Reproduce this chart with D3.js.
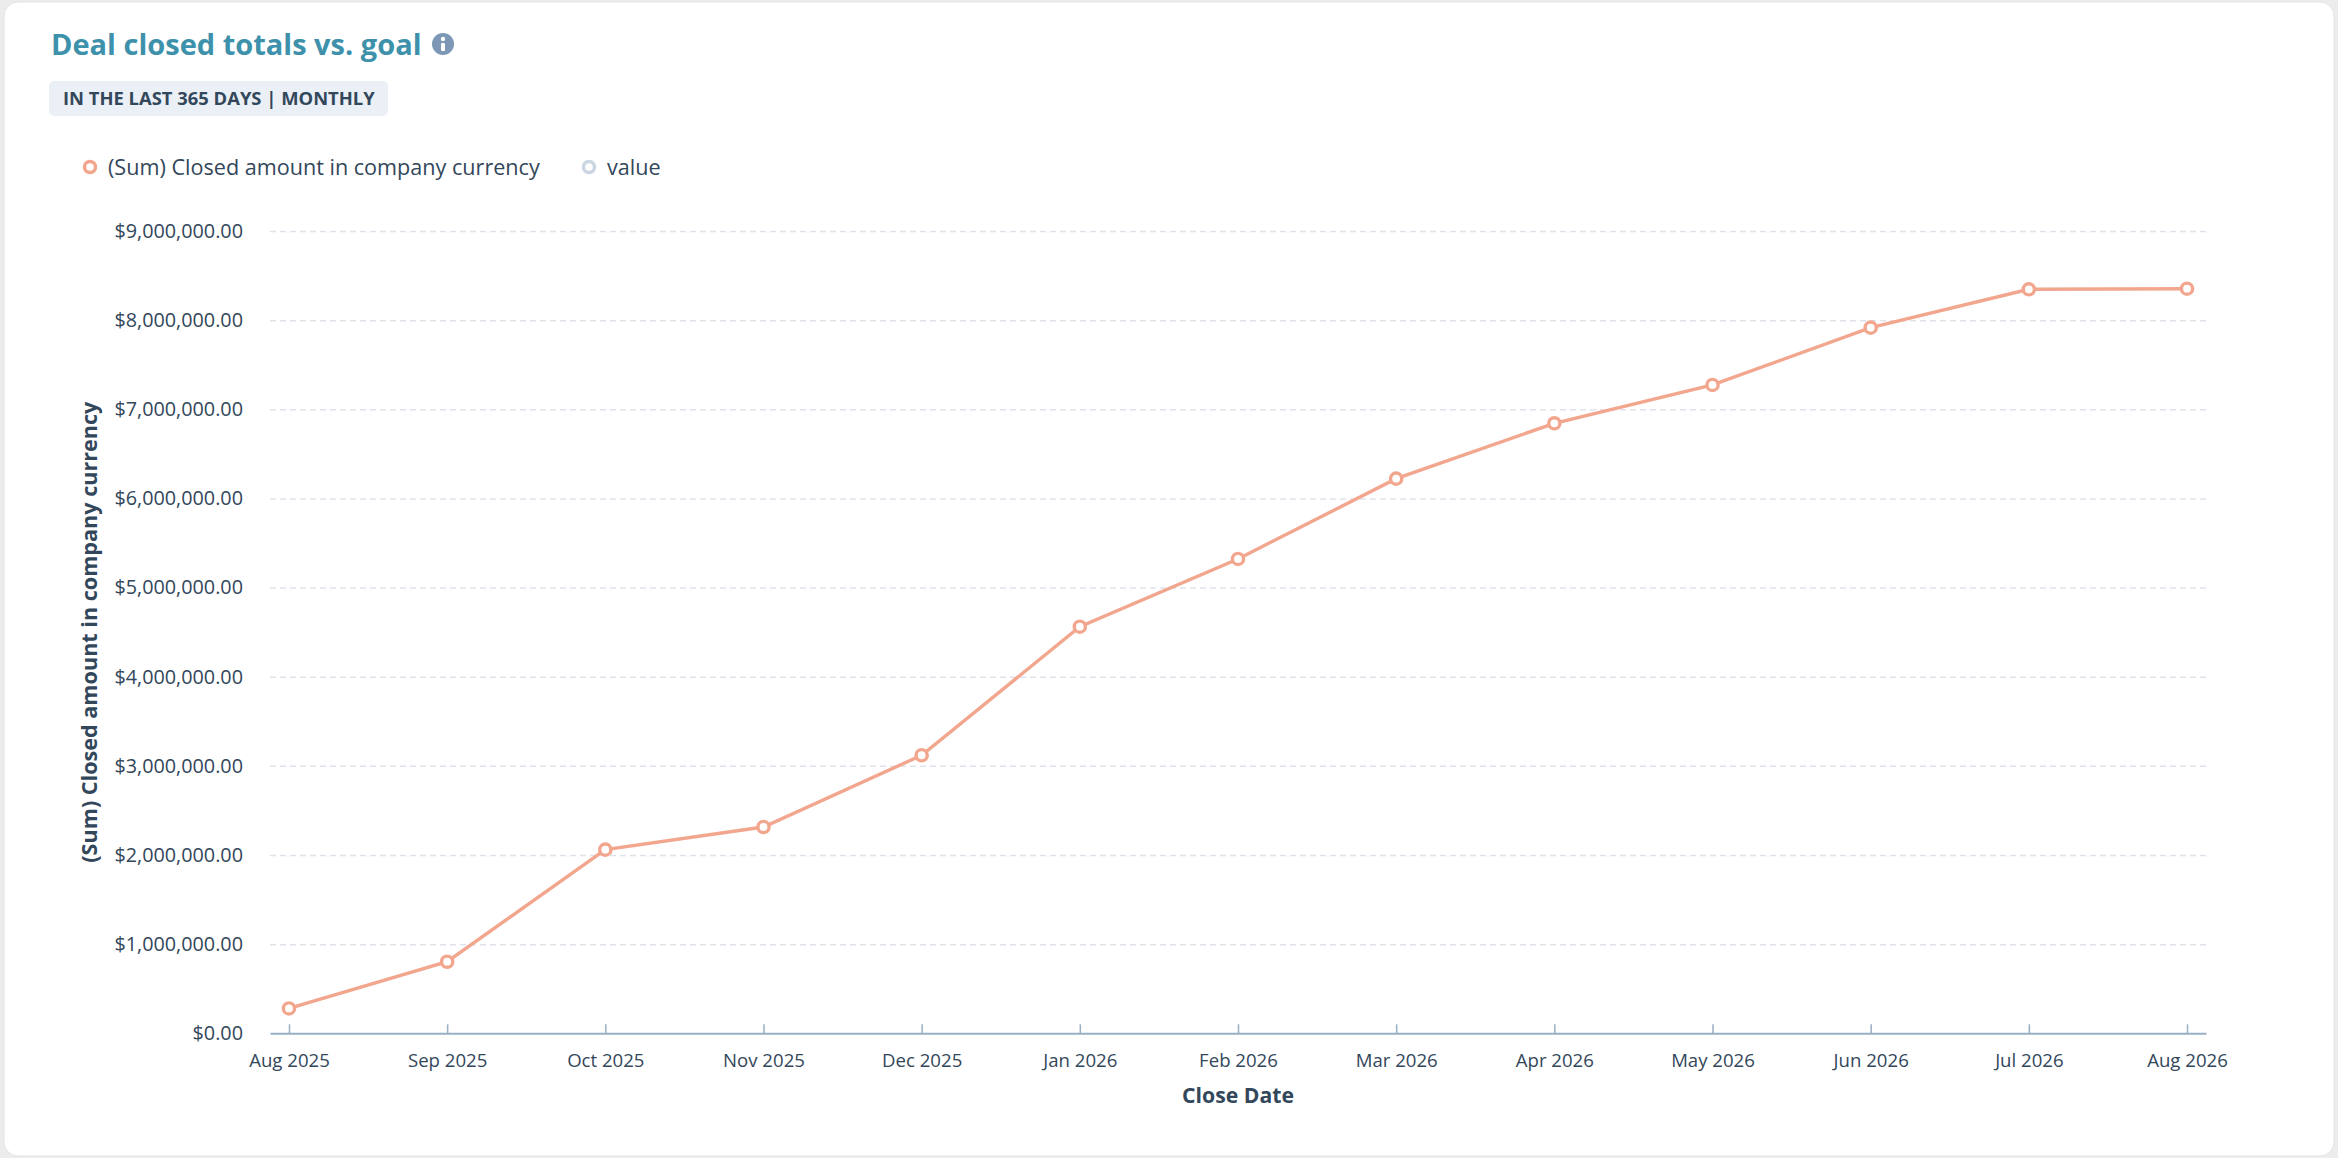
<!DOCTYPE html>
<html>
<head>
<meta charset="utf-8">
<script src="https://cdn.jsdelivr.net/npm/d3@7"></script>
<style>
  html, body { margin: 0; padding: 0; background: #ececec; }
  body { width: 2338px; height: 1158px; overflow: hidden; }
  svg { display: block; }
  text { font-family: "Open Sans", "Noto Sans", sans-serif; fill: #33475b; }
</style>
</head>
<body>
<svg id="chart" width="2338" height="1158"></svg>
<script>
// data
const months = ["Aug 2025", "Sep 2025", "Oct 2025", "Nov 2025", "Dec 2025", "Jan 2026",
  "Feb 2026", "Mar 2026", "Apr 2026", "May 2026", "Jun 2026", "Jul 2026", "Aug 2026"];
const closedAmount = [279000, 803000, 2060000, 2314000, 3119000, 4561000,
  5321000, 6222000, 6843000, 7273000, 7916000, 8346000, 8353000];
const yTicks = [0, 1000000, 2000000, 3000000, 4000000, 5000000, 6000000, 7000000, 8000000, 9000000];
const legendItems = ["(Sum) Closed amount in company currency", "value"];
const legendColors = ["#f2a68e", "#cbd6e2"];

const data = months.map((m, i) => ({month: m, value: closedAmount[i]}));

const svg = d3.select("#chart");
const plotLeft = 270, plotRight = 2206, plotTop = 231, plotBottom = 1033.3;

// card
svg.append("rect")
  .attr("x", 4).attr("y", 2)
  .attr("width", 2330).attr("height", 1154)
  .attr("rx", 14)
  .attr("fill", "#fff")
  .attr("stroke", "#e3e3e3");

// title
svg.append("text")
  .attr("x", 51).attr("y", 55)
  .attr("font-size", 29).attr("font-weight", 700)
  .style("fill", "#3d91ab")
  .text("Deal closed totals vs. goal");

const info = svg.append("g").attr("transform", "translate(443,44)");
info.append("circle").attr("r", 11).attr("fill", "#7c98b6");
info.append("circle").attr("cy", -5).attr("r", 2.2).attr("fill", "#fff");
info.append("rect").attr("x", -2).attr("y", -1).attr("width", 4).attr("height", 8).attr("rx", 1).attr("fill", "#fff");

// badge
svg.append("rect")
  .attr("x", 49).attr("y", 81)
  .attr("width", 339).attr("height", 35)
  .attr("rx", 5)
  .attr("fill", "#eaf0f6");
svg.append("text")
  .attr("x", 63).attr("y", 105)
  .attr("font-size", 18.4).attr("font-weight", 700)
  .text("IN THE LAST 365 DAYS | MONTHLY");

// legend
const legendX = [90, 589];
const lg = svg.selectAll(".legend")
  .data(legendItems)
  .join("g")
  .attr("class", "legend")
  .attr("transform", (d, i) => `translate(${legendX[i]},167)`);
lg.append("circle")
  .attr("r", 5.5)
  .attr("fill", "#fff")
  .attr("stroke", (d, i) => legendColors[i])
  .attr("stroke-width", 3.5);
lg.append("text")
  .attr("x", 18).attr("y", 7.5)
  .attr("font-size", 21.6)
  .text(d => d);

// scales
const x = d3.scalePoint()
  .domain(months)
  .range([plotLeft, plotRight])
  .padding(0.12);

const y = d3.scaleLinear()
  .domain([0, 9000000])
  .range([plotBottom, plotTop]);

// grid
svg.append("g")
  .attr("class", "grid")
  .attr("transform", `translate(${plotLeft},0)`)
  .call(d3.axisLeft(y).tickValues(yTicks.filter(v => v > 0)).tickSize(-(plotRight - plotLeft)).tickFormat(""))
  .call(g => g.select(".domain").remove())
  .call(g => g.selectAll("line")
    .attr("stroke", "#dfe3eb")
    .attr("stroke-width", 1.5)
    .attr("stroke-dasharray", "6,4"));

// y axis labels
svg.append("g")
  .attr("transform", `translate(${plotLeft},0)`)
  .call(d3.axisLeft(y).tickValues(yTicks).tickSize(0).tickPadding(27).tickFormat(d3.format("$,.2f")))
  .call(g => g.select(".domain").remove())
  .call(g => g.selectAll("text")
    .attr("font-size", 19.8)
    .attr("font-family", null)
    .style("fill", "#33475b"));

// x axis
svg.append("g")
  .attr("transform", `translate(0,${plotBottom})`)
  .call(d3.axisBottom(x).tickSizeInner(-9).tickSizeOuter(0).tickPadding(20))
  .call(g => g.select(".domain").attr("stroke", "#99afc4").attr("stroke-width", 2))
  .call(g => g.selectAll("line").attr("stroke", "#99afc4").attr("stroke-width", 1.5))
  .call(g => g.selectAll("text")
    .attr("font-size", 18.6)
    .attr("font-family", null)
    .style("fill", "#33475b"));

// axis titles
svg.append("text")
  .attr("x", (plotLeft + plotRight) / 2).attr("y", 1103)
  .attr("text-anchor", "middle")
  .attr("font-size", 21.2).attr("font-weight", 700)
  .text("Close Date");

svg.append("text")
  .attr("transform", `translate(97,${(plotTop + plotBottom) / 2}) rotate(-90)`)
  .attr("text-anchor", "middle")
  .attr("font-size", 21.6).attr("font-weight", 700)
  .text("(Sum) Closed amount in company currency");

// line + markers
const line = d3.line()
  .x(d => x(d.month))
  .y(d => y(d.value));

svg.append("path")
  .datum(data)
  .attr("d", line)
  .attr("fill", "none")
  .attr("stroke", "#f2a68e")
  .attr("stroke-width", 3.4);

svg.selectAll(".pt")
  .data(data)
  .join("circle")
  .attr("class", "pt")
  .attr("cx", d => x(d.month))
  .attr("cy", d => y(d.value))
  .attr("r", 5.6)
  .attr("fill", "#fff")
  .attr("stroke", "#f2a68e")
  .attr("stroke-width", 3.4);
</script>
</body>
</html>
